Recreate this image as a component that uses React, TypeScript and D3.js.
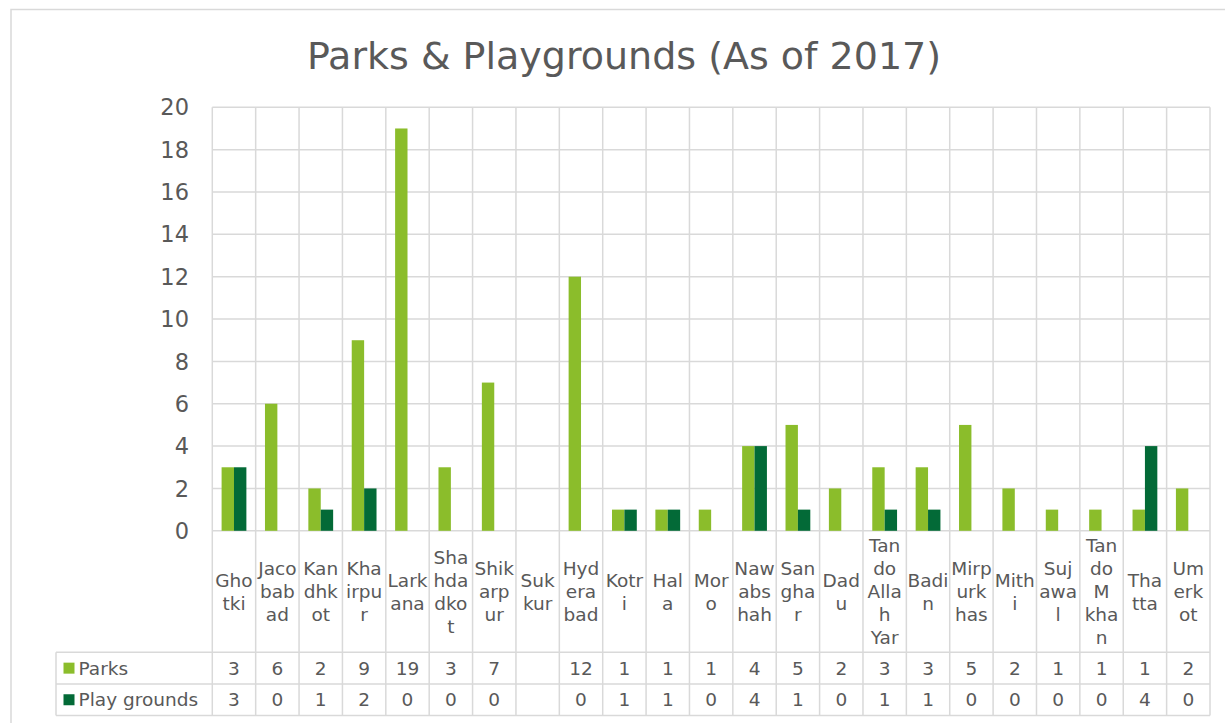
import React from "react";
import * as d3 from "d3";

const categories = ["Ghotki","Jacobabad","Kandhkot","Khairpur","Larkana","Shahdadkot","Shikarpur","Sukkur","Hyderabad","Kotri","Hala","Moro","Nawabshah","Sanghar","Dadu","Tando Allah Yar","Badin","Mirpurkhas","Mithi","Sujawal","Tando M khan","Thatta","Umerkot"];
const categoryLines = [["Gho","tki"],["Jaco","bab","ad"],["Kan","dhk","ot"],["Kha","irpu","r"],["Lark","ana"],["Sha","hda","dko","t"],["Shik","arp","ur"],["Suk","kur"],["Hyd","era","bad"],["Kotr","i"],["Hal","a"],["Mor","o"],["Naw","abs","hah"],["San","gha","r"],["Dad","u"],["Tan","do","Alla","h","Yar"],["Badi","n"],["Mirp","urk","has"],["Mith","i"],["Suj","awa","l"],["Tan","do","M","kha","n"],["Tha","tta"],["Um","erk","ot"]];
const parks: (number | null)[] = [3,6,2,9,19,3,7,null,12,1,1,1,4,5,2,3,3,5,2,1,1,1,2];
const playgrounds: (number | null)[] = [3,0,1,2,0,0,0,null,0,1,1,0,4,1,0,1,1,0,0,0,0,4,0];
const yTicks = [0,2,4,6,8,10,12,14,16,18,20];
const seriesNames = ["Parks","Play grounds"];
const seriesColors = ["#8BBD2B","#036A37"];

export default function App() {
  const W = 1225, H = 723;
  const left = 212.3, right = 1210, top = 107.3, zeroY = 530.8;
  const catBottom = 652.3, row1Bottom = 684, row2Bottom = 715.5;
  const legendLeft = 56;
  const grid = "#D9D9D9";
  const txt = "#595959";
  const font = "'DejaVu Sans', Verdana, sans-serif";
  const tfs = 18.5;

  const x = d3.scaleBand<string>().domain(categories).range([left, right]).padding(0);
  const y = d3.scaleLinear().domain([0, 20]).range([zeroY, top]);
  const bw = x.bandwidth();
  const barW = bw / 3.5;
  const series = [parks, playgrounds];
  const rowMid = [(catBottom + row1Bottom) / 2, (row1Bottom + row2Bottom) / 2];
  const lineH = 23;
  const catMid = (zeroY + catBottom) / 2;

  return (
    <svg width={W} height={H} style={{ position: "absolute", left: 0, top: 0, background: "#fff" }} fontFamily={font}>
      <rect x={11} y={9.5} width={1240} height={740} fill="#fff" stroke={grid} strokeWidth={1.5} />
      <text x={624} y={69} textAnchor="middle" fontSize={38} fill={txt}>Parks &amp; Playgrounds (As of 2017)</text>
      {/* horizontal gridlines */}
      {yTicks.map(t => (
        <line key={"g" + t} x1={left} x2={right} y1={y(t)} y2={y(t)} stroke={grid} strokeWidth={1.5} />
      ))}
      {/* vertical lines */}
      {categories.map((c, i) => (
        <line key={"v" + i} x1={x(c)!} x2={x(c)!} y1={top} y2={row2Bottom} stroke={grid} strokeWidth={1.5} />
      ))}
      <line x1={right} x2={right} y1={top} y2={row2Bottom} stroke={grid} strokeWidth={1.5} />
      {/* table horizontal lines */}
      {[catBottom, row1Bottom, row2Bottom].map((yy, i) => (
        <line key={"t" + i} x1={legendLeft} x2={right} y1={yy} y2={yy} stroke={grid} strokeWidth={1.5} />
      ))}
      <line x1={legendLeft} x2={legendLeft} y1={catBottom} y2={row2Bottom} stroke={grid} strokeWidth={1.5} />
      {/* y tick labels */}
      {yTicks.map(t => (
        <text key={"yt" + t} x={189} y={y(t)} dy="0.36em" textAnchor="end" fontSize={22.5} fill={txt}>{t}</text>
      ))}
      {/* bars */}
      {series.map((s, si) => categories.map((c, i) => {
        const v = s[i];
        if (v == null || v === 0) return null;
        const cx = x(c)! + bw / 2;
        const bx = si === 0 ? cx - barW : cx;
        return <rect key={"b" + si + "-" + i} x={bx} y={y(v)} width={barW} height={zeroY - y(v)} fill={seriesColors[si]} />;
      }))}
      {/* category labels */}
      {categories.map((c, i) => {
        const lines = categoryLines[i];
        const startY = catMid - ((lines.length - 1) * lineH) / 2;
        return (
          <text key={"c" + i} textAnchor="middle" fontSize={tfs} fill={txt}>
            {lines.map((l, li) => (
              <tspan key={li} x={x(c)! + bw / 2} y={startY + li * lineH} dy="0.36em">{l}</tspan>
            ))}
          </text>
        );
      })}
      {/* data table rows */}
      {series.map((s, si) => (
        <g key={"row" + si}>
          <rect x={63.5} y={rowMid[si] - 5.5} width={11} height={11} fill={seriesColors[si]} />
          <text x={78.5} y={rowMid[si]} dy="0.36em" fontSize={tfs} fill={txt}>{seriesNames[si]}</text>
          {categories.map((c, i) => s[i] == null ? null : (
            <text key={i} x={x(c)! + bw / 2} y={rowMid[si]} dy="0.36em" textAnchor="middle" fontSize={tfs} fill={txt}>{s[i]}</text>
          ))}
        </g>
      ))}
    </svg>
  );
}
